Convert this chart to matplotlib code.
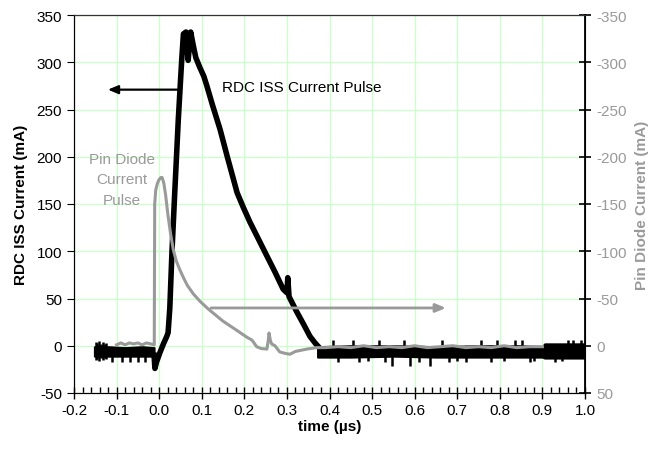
import matplotlib
matplotlib.use("Agg")
import matplotlib.pyplot as plt
from matplotlib.ticker import MultipleLocator, FormatStrFormatter

plt.rcParams['font.family'] = ['Liberation Sans', 'DejaVu Sans']
plt.rcParams['axes.unicode_minus'] = False

# RDC ISS current pulse (mA), left axis
rdc_t = [-0.012, -0.010, -0.006, 0.002, 0.010, 0.018, 0.021, 0.025, 0.030, 0.037,
         0.045, 0.053, 0.057, 0.063, 0.068, 0.074, 0.080, 0.086, 0.095, 0.105,
         0.112, 0.125, 0.143, 0.160, 0.183, 0.198, 0.213, 0.233, 0.253, 0.272,
         0.291, 0.300, 0.302, 0.305, 0.323, 0.340, 0.354, 0.366, 0.378]
rdc_ma = [-10, -24, -17, -7, 2, 10, 14, 40, 99, 166,
          240, 303, 330, 332, 302, 332, 318, 305, 295, 285,
          275, 255, 229, 200, 162, 146, 131, 113, 95, 78,
          60, 56, 72, 52, 36, 22, 10, 3, -3]

# RDC noise floor before / after the pulse (band edges, mA)
pre_t = [-0.152, -0.12, -0.08, -0.04, -0.012]
pre_hi = [-1, -1, -2, -1, -2]
pre_lo = [-11, -11, -11, -11, -11]
post_t = [0.372, 0.45, 0.55, 0.65, 0.75, 0.85, 0.90, 0.905, 1.0]
post_hi = [-1, 0, 0, -1, 0, 0, -1, 2, 2]
post_lo = [-12, -12, -11, -12, -12, -12, -12, -13, -13]

# RDC noise spikes (mA)
spike_t = [-0.149, -0.145, -0.141, -0.137, -0.133, -0.128, -0.124, -0.111, -0.088, -0.068,
           -0.049, -0.033, 0.409, 0.456, 0.517, 0.575, 0.665, 0.756, 0.794, 0.836,
           0.851, 0.961, 0.971, 0.990, 0.420, 0.470, 0.490, 0.530, 0.546, 0.589,
           0.610, 0.636, 0.680, 0.700, 0.720, 0.780, 0.810, 0.870, 0.880, 0.930,
           0.945]
spike_lo = [-15, -14, -16, -13, -15, -13, -14, -17, -17, -17,
            -17, -17, -6, -6, -6, -6, -6, -6, -6, -6,
            -6, -6, -6, -6, -17, -17, -16, -17, -21, -21,
            -17, -21, -17, -16, -17, -17, -16, -17, -16, -17,
            -16]
spike_hi = [4, 3, 5, 2, 4, 2, 3, -6, -6, -6,
            -6, -6, 6, 6, 6, 6, 6, 6, 6, 6,
            6, 6, 6, 6, -6, -6, -6, -6, -6, -6,
            -6, -6, -6, -6, -6, -6, -6, -6, -6, -6,
            -6]

# Pin diode current (mA), right axis (inverted)
pin_t = [-0.100, -0.090, -0.080, -0.070, -0.060, -0.050, -0.040, -0.030, -0.020, -0.0115,
         -0.0105, -0.008, -0.004, 0.000, 0.004, 0.007, 0.011, 0.015, 0.021, 0.027,
         0.033, 0.040, 0.048, 0.056, 0.066, 0.080, 0.096, 0.115, 0.150, 0.180,
         0.206, 0.218, 0.229, 0.240, 0.253, 0.256, 0.258, 0.261, 0.264, 0.272,
         0.283, 0.295, 0.307, 0.320, 0.347, 0.370, 0.390, 0.420, 0.450, 0.480,
         0.510, 0.540, 0.570, 0.600, 0.630, 0.660, 0.690, 0.720, 0.750, 0.780,
         0.810, 0.840, 0.870, 0.900]
pin_ma = [-1, -3, -1, -3, -2, -3, -1, -3, -2, -1,
          -150, -165, -172, -176, -178, -178, -172, -160, -137, -118,
          -102, -90, -81, -73, -64, -55, -47, -39, -26, -17,
          -9, -6, 1, 3, 3.5, -5, -13.5, -6, -2, 0,
          6.5, 8, 9, 6, 3.5, 2, 2, 1, 2, 0,
          2, 1, 2, 0, 2, 1, 0, 2, 1, 2,
          0, 2, 1, 1]

gray = '#9a9a9a'
grid_c = '#ccffcc'

fig = plt.figure(figsize=(6.57, 4.52), dpi=100)
ax = fig.add_axes([74 / 657, 1 - 394 / 452, 511 / 657, 378 / 452])
ax2 = ax.twinx()

ax.set_xlim(-0.2, 1.0)
ax.set_ylim(-50, 350)
ax2.set_ylim(50, -350)

ax.xaxis.set_major_locator(MultipleLocator(0.1))
ax.xaxis.set_minor_locator(MultipleLocator(0.02))
ax.xaxis.set_major_formatter(FormatStrFormatter('%.1f'))
ax.yaxis.set_major_locator(MultipleLocator(50))
ax2.yaxis.set_major_locator(MultipleLocator(50))

ax.grid(True, which='major', color=grid_c, lw=1)
ax.set_axisbelow(True)

ax.fill_between(pre_t, pre_lo, pre_hi, color='black', lw=1.5, zorder=3)
ax.fill_between(post_t, post_lo, post_hi, color='black', lw=1.5, zorder=3)
ax.vlines(spike_t, spike_lo, spike_hi, color='black', lw=1.8, zorder=3)
ax.plot(rdc_t, rdc_ma, color='black', lw=4.0, solid_joinstyle='round', zorder=3)
ax2.plot(pin_t, pin_ma, color=gray, lw=2.2, zorder=4)

ax.tick_params(axis='x', which='major', direction='inout', length=8, labelsize=11, width=1)
ax.tick_params(axis='x', which='minor', direction='in', length=4, width=1)
ax.tick_params(axis='y', direction='out', length=5, labelsize=11)
ax2.tick_params(axis='y', direction='inout', length=9, labelsize=11, labelcolor=gray, width=1.2)

for s in ax.spines.values():
    s.set_color('black')
ax2.spines['right'].set_linewidth(1.3)
ax2.spines['top'].set_color('#333333')

ax.set_xlabel('time (\u00b5s)', fontsize=11, fontweight='bold', labelpad=1)
ax.set_ylabel('RDC ISS Current (mA)', fontsize=11, fontweight='bold', labelpad=6)
ax2.set_ylabel('Pin Diode Current (mA)', fontsize=11, fontweight='bold', color=gray, labelpad=6)

ax.annotate('', xy=(-0.127, 271), xytext=(0.049, 271),
            arrowprops=dict(arrowstyle='-|>,head_length=0.6,head_width=0.25', color='black', lw=1.6),
            zorder=5)
ax2.annotate('', xy=(0.68, -40), xytext=(0.115, -40),
             arrowprops=dict(arrowstyle='-|>,head_length=0.6,head_width=0.25', color=gray, lw=2),
             zorder=5)

ax.text(0.148, 274, 'RDC ISS Current Pulse', fontsize=11, ha='left', va='center', zorder=6)
ax.text(-0.087, 176, 'Pin Diode\nCurrent\nPulse', fontsize=11, ha='center', va='center',
        color=gray, linespacing=1.6, zorder=6)

fig.savefig('out.png', dpi=100)
